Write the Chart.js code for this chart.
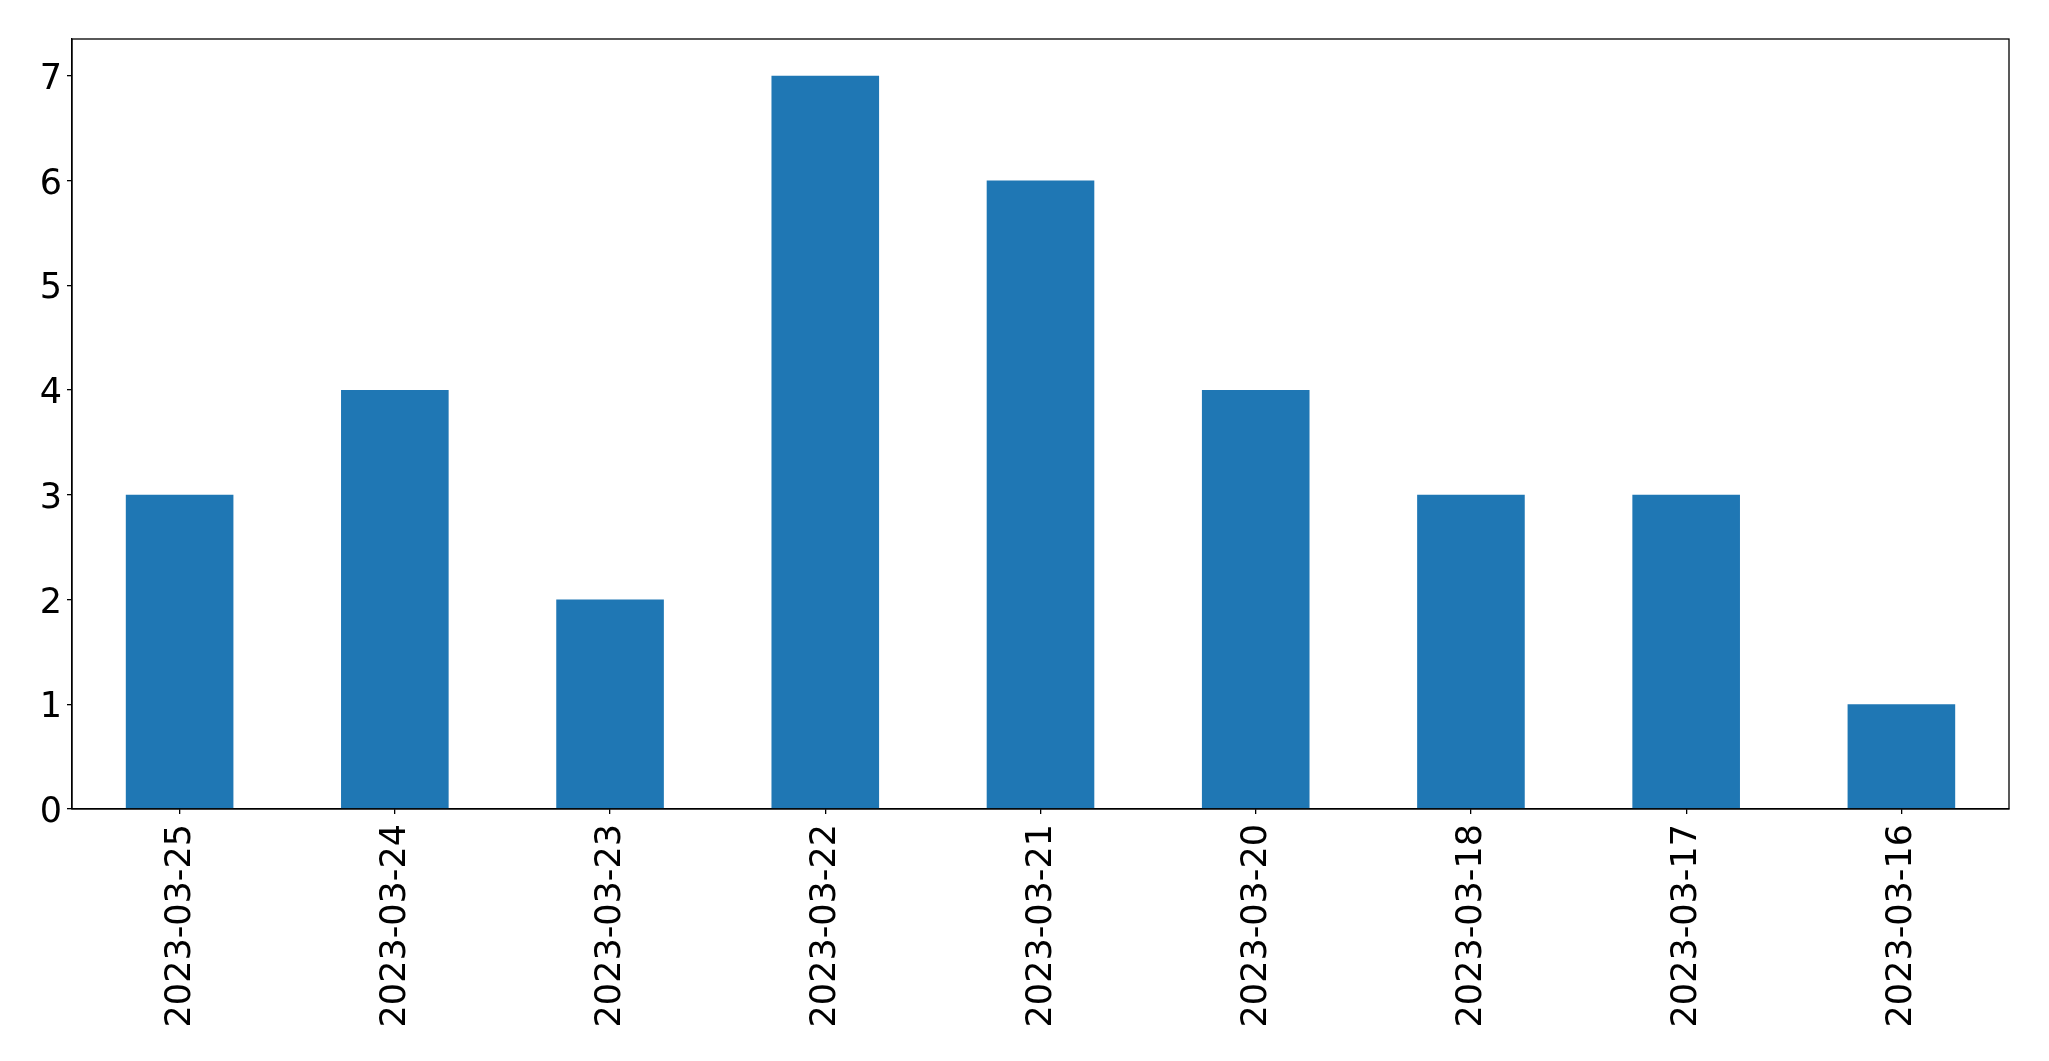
<!DOCTYPE html>
<html>
<head>
<meta charset="utf-8">
<script src="https://cdn.jsdelivr.net/npm/chart.js@4/dist/chart.umd.min.js"></script>
<style>
  html,body{margin:0;padding:0;background:#fff;}
  #wrap{width:2049px;height:1061px;}
</style>
</head>
<body>
<div id="wrap"><canvas id="c"></canvas></div>
<script>
// データ
const dates=['2023-03-25','2023-03-24','2023-03-23','2023-03-22','2023-03-21','2023-03-20','2023-03-18','2023-03-17','2023-03-16'];
const counts=[3,4,2,7,6,4,3,3,1];
const yMax=7.35;

// 上・右の枠線
const frame={id:'frame',afterDraw(ch){
  const a=ch.chartArea,ctx=ch.ctx;
  ctx.save();ctx.strokeStyle='#000';ctx.lineWidth=1.3;
  ctx.strokeRect(a.left,a.top,a.right-a.left,a.bottom-a.top);
  ctx.restore();
}};

const font={family:'"DejaVu Sans"',size:35};
new Chart(document.getElementById('c'),{
  type:'bar',
  data:{labels:dates,datasets:[{data:counts,backgroundColor:'#1f77b4',borderWidth:0,
    categoryPercentage:1,barPercentage:0.5}]},
  options:{responsive:true,maintainAspectRatio:false,animation:false,
    devicePixelRatio:1,
    layout:{padding:{top:39,right:40,left:0,bottom:0}},
    plugins:{legend:{display:false},tooltip:{enabled:false}},
    scales:{
      x:{grid:{display:true,offset:false,drawOnChartArea:false,tickLength:5,color:'#000',lineWidth:1.3},
        border:{color:'#000',width:1.3},
        ticks:{font,color:'#000',minRotation:90,maxRotation:90,padding:10,autoSkip:false,labelOffset:1},
        afterFit(s){s.height=252;}},
      y:{min:0,max:yMax,
        grid:{display:true,drawOnChartArea:false,tickLength:5,color:'#000',lineWidth:1.3},
        border:{color:'#000',width:1.3},
        ticks:{font,color:'#000',stepSize:1,includeBounds:false,padding:5,labelOffset:4},
        afterFit(s){s.width=72;}}
    }},
  plugins:[frame]
});
</script>
</body>
</html>
